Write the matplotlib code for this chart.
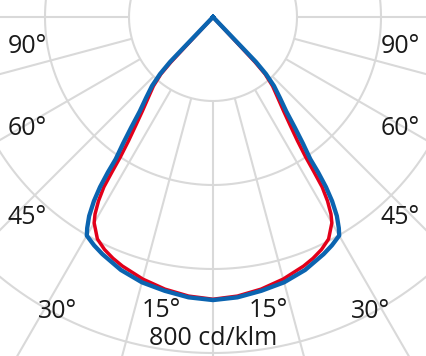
import numpy as np
import matplotlib
matplotlib.use("Agg")
import matplotlib.pyplot as plt

# ---- data (cd/klm vs gamma angle in degrees) ----
gamma_blue = [0, 5, 10, 15, 20, 25, 27.5, 30, 30.8, 31.9, 32.9, 33.6, 34.1, 34.4,
              35.4, 36.5, 37.8, 39.6, 41.5, 42.9, 43.7, 45]
blue = [674, 670, 662, 654, 641, 623, 613, 601, 585, 558, 522, 486, 446, 410,
        370, 328, 285, 250, 219, 185, 148, 0]

gamma_red = [0, 5, 10, 15, 20, 22.5, 25, 27.5, 30, 30.9, 31.9, 32.7, 33.1, 33.5,
             34.3, 35.5, 36.9, 38.7, 40.8, 42.4, 43, 45]
red = [672, 667, 658, 646, 631, 622, 611, 596, 566, 547, 516, 481, 440, 400,
       357, 316, 280, 247, 217, 184, 147, 0]

grid_circles = [200, 400, 600, 800]
grid_angles = list(range(0, 360, 15))
scale_label = "800 cd/klm"

# label text, data position (x, baseline y) in cd/klm units
angle_labels = ["90°", "60°", "45°", "30°", "15°", "15°", "30°", "45°", "60°", "90°"]
label_x = [-443, -443, -443, -371, -124, 131, 376, 445, 445, 445]
label_y = [-86, -281, -493, -717, -714, -714, -717, -493, -281, -86]

# ---- figure ----
px = 0.42  # pixels per cd/klm
cx, cy = 213, 17
W, H = 427, 356
fig = plt.figure(figsize=(W / 100, H / 100), dpi=100)
ax = fig.add_axes([0, 0, 1, 1])
ax.set_xlim(-cx / px, (W - cx) / px)
ax.set_ylim(-(H - cy) / px, cy / px)
ax.axis("off")

grid_col = "#d9d9d9"
t = np.linspace(0, 2 * np.pi, 721)
for r in grid_circles:
    ax.plot(r * np.sin(t), r * np.cos(t), color=grid_col, lw=1.5, zorder=1)
for a in grid_angles:
    th = np.radians(a)
    rr = np.array([grid_circles[0], 1500])
    ax.plot(rr * np.sin(th), -rr * np.cos(th), color=grid_col, lw=1.5,
            zorder=1, solid_capstyle="butt")


def curve(gam, val):
    g = np.radians(np.array(gam, dtype=float))
    v = np.array(val, dtype=float)
    x = np.concatenate([-(v * np.sin(g))[::-1], (v * np.sin(g))[1:]])
    y = np.concatenate([-(v * np.cos(g))[::-1], -(v * np.cos(g))[1:]])
    return x, y


xr, yr = curve(gamma_red, red)
ax.plot(xr, yr, color="#e2001a", lw=2.5, zorder=3, solid_joinstyle="round")
xb, yb = curve(gamma_blue, blue)
ax.plot(xb, yb, color="#0b64b0", lw=3.1, zorder=4, solid_joinstyle="round")

font = dict(family=["Open Sans", "DejaVu Sans"], size=18, color="#1a1a1a")
for s, x, y in zip(angle_labels, label_x, label_y):
    ax.text(x, y, s, ha="center", va="baseline", zorder=5, **font)
ax.text(0, -781, scale_label, ha="center", va="baseline", zorder=5, **font)

fig.savefig("out.png", dpi=100)
